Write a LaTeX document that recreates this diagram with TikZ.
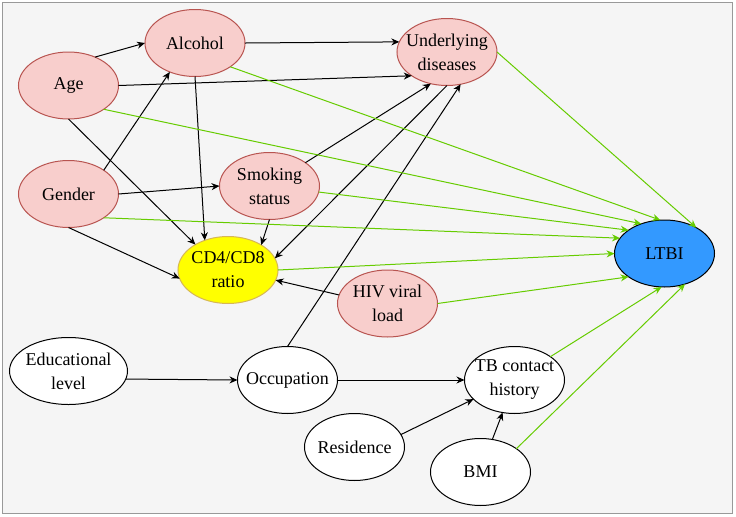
\documentclass[tikz,border=0pt]{standalone}
\usepackage{fontspec}
\setmainfont{Liberation Serif}
\usetikzlibrary{shapes.geometric, positioning, arrows.meta}
\definecolor{riskfill}{HTML}{F8CECC}
\definecolor{riskdraw}{HTML}{B85450}
\definecolor{ratiofill}{HTML}{FFFF00}
\definecolor{ratiodraw}{HTML}{D6B656}
\definecolor{outfill}{HTML}{3399FF}
\definecolor{linkgreen}{HTML}{66CC00}
\definecolor{panelfill}{HTML}{F5F5F5}
\definecolor{paneldraw}{HTML}{999999}

\begin{document}
\begin{tikzpicture}[
  node distance=20pt, on grid,
  var/.style={ellipse, draw=black, fill=white, line width=0.5pt,
              minimum width=50pt, minimum height=33.5pt,
              inner xsep=-6pt, inner ysep=0pt, outer sep=0pt,
              align=center, font=\fontsize{9}{12}\selectfont},
  risk/.style={var, draw=riskdraw, fill=riskfill},
  ratio/.style={var, draw=ratiodraw, fill=ratiofill},
  outcome/.style={var, fill=outfill},
  arr/.style={-{Stealth[length=4pt, width=3.5pt]}, line width=0.5pt},
  garr/.style={arr, draw=linkgreen},
]
\useasboundingbox (0,0) rectangle (368pt,-258pt);
\draw[draw=paneldraw, fill=panelfill, line width=0.5pt] (1pt,-1pt) rectangle (366.5pt,-256.5pt);
\node[risk] (age) at (34.25pt,-42.75pt) {Age};
\node[risk, above right=21.25pt and 63.25pt of age] (alc)  {Alcohol};
\node[risk, below=54.25pt of age]                   (gen)  {Gender};
\node[risk, above right=4pt and 100.5pt of gen]     (smk)  {Smoking\\status};
\node[risk, below right=4.5pt and 126pt of alc]     (und)  {Underlying\\diseases};
\node[ratio, below left=42pt and 20.75pt of smk]    (cd)   {CD4/CD8\\ratio};
\node[risk, below right=16.75pt and 79.75pt of cd]  (hiv)  {HIV viral\\load};
\node[outcome, above right=8.25pt and 218.25pt of cd] (ltbi) {LTBI};
\node[var, below=88.5pt of gen, minimum width=59pt] (edu)  {Educational\\level};
\node[var, below right=4.5pt and 109.5pt of edu]    (occ)  {Occupation};
\node[var, right=113.5pt of occ]                    (tb)   {TB contact\\history};
\node[var, below right=33.5pt and 33.5pt of occ]    (res)  {Residence};
\node[var, below left=46pt and 17pt of tb]          (bmi)  {BMI};
% Paths between the factors
\draw[arr] (age.47)    -- (alc.west);
\draw[arr] (gen.34)    -- (alc.229);
\draw[arr] (alc.east)  -- (und.168);
\draw[arr] (age.east)  -- (und.214);
\draw[arr] (smk.33)    -- (und.243);
\draw[arr] (occ.north) -- (und.293);
\draw[arr] (und.south) -- (cd.14);
\draw[arr] (alc.south) -- (cd.128);
\draw[arr] (age.south) -- (cd.142);
\draw[arr] (gen.south) -- (cd.190);
\draw[arr] (gen.east)  -- (smk.west);
\draw[arr] (smk.south) -- (cd.37);
\draw[arr] (hiv.170)   -- (cd.-12);
\draw[arr] (edu.-8)    -- (occ.west);
\draw[arr] (occ.east)  -- (tb.west);
\draw[arr] (res.15)    -- (tb.205);
\draw[arr] (bmi.70)    -- (tb.250);
% Paths into LTBI
\draw[garr] (alc.-34)  -- (ltbi.97);
\draw[garr] (age.-34)  -- (ltbi.128);
\draw[garr] (und.east) -- (ltbi.39);
\draw[garr] (smk.-7)   -- (ltbi.147);
\draw[garr] (gen.-34)  -- (ltbi.161);
\draw[garr] (cd.east)  -- (ltbi.west);
\draw[garr] (hiv.east) -- (ltbi.213);
\draw[garr] (tb.33)    -- (ltbi.265);
\draw[garr] (bmi.33)   -- (ltbi.304);
\end{tikzpicture}
\end{document}
